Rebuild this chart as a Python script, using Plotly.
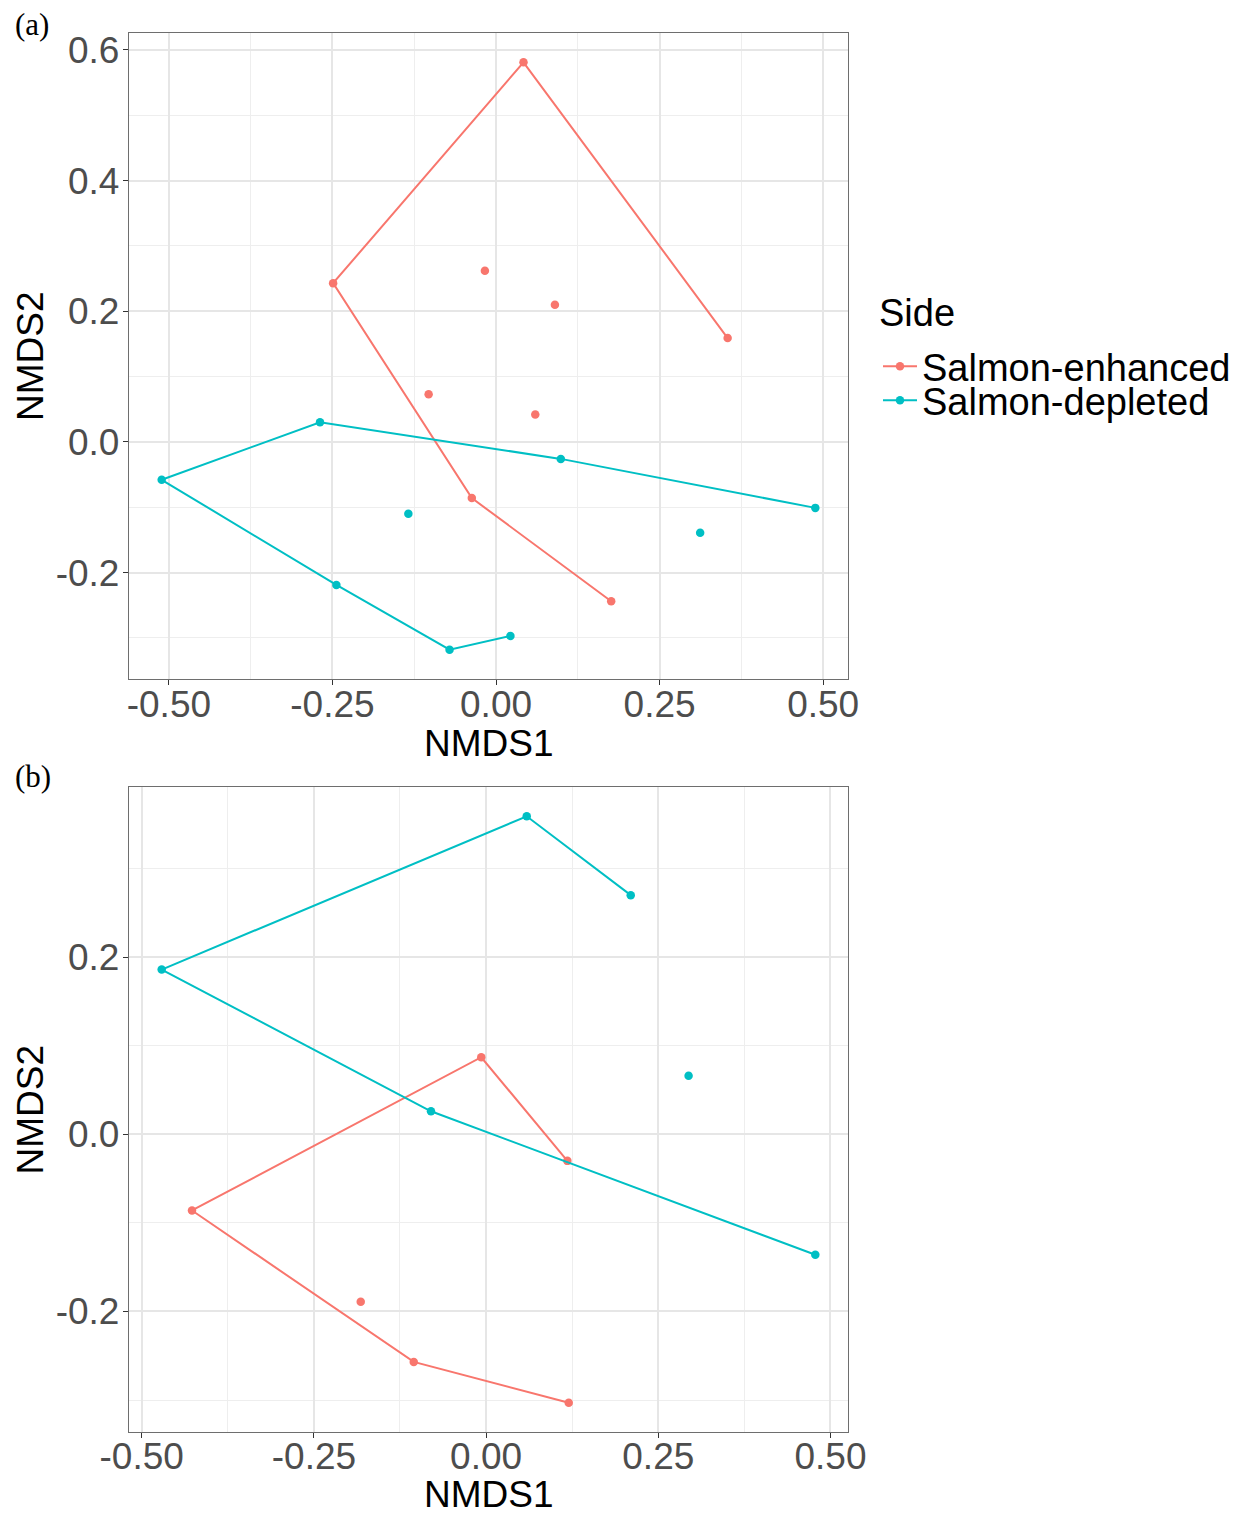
import plotly.graph_objects as go

# Side colours (ggplot2 default hue palette for two levels)
ENH_COLOR = "#F8766D"
DEP_COLOR = "#00BFC4"

# ---------------- Panel (a) ----------------
a_enh_path_x = [0.354, 0.042, -0.249, -0.037, 0.176]
a_enh_path_y = [0.159, 0.581, 0.243, -0.086, -0.244]
a_enh_pts_x = [-0.017, 0.090, -0.103, 0.060]
a_enh_pts_y = [0.262, 0.210, 0.073, 0.042]

a_dep_path_x = [0.488, 0.099, -0.269, -0.511, -0.244, -0.071, 0.022]
a_dep_path_y = [-0.101, -0.026, 0.030, -0.058, -0.219, -0.318, -0.297]
a_dep_pts_x = [-0.134, 0.312]
a_dep_pts_y = [-0.110, -0.139]

# ---------------- Panel (b) ----------------
b_enh_path_x = [0.118, -0.007, -0.427, -0.105, 0.120]
b_enh_path_y = [-0.030, 0.087, -0.086, -0.257, -0.303]
b_enh_pts_x = [-0.182]
b_enh_pts_y = [-0.189]

b_dep_path_x = [0.210, 0.059, -0.471, -0.080, 0.478]
b_dep_path_y = [0.270, 0.359, 0.186, 0.026, -0.136]
b_dep_pts_x = [0.294]
b_dep_pts_y = [0.066]

# Tick labels
x_tick_vals = [-0.50, -0.25, 0.00, 0.25, 0.50]
x_tick_text = ["-0.50", "-0.25", "0.00", "0.25", "0.50"]
a_y_tick_vals = [-0.2, 0.0, 0.2, 0.4, 0.6]
a_y_tick_text = ["-0.2", "0.0", "0.2", "0.4", "0.6"]
b_y_tick_vals = [-0.2, 0.0, 0.2]
b_y_tick_text = ["-0.2", "0.0", "0.2"]

legend_title = "Side"
group_names = ["Salmon-enhanced", "Salmon-depleted"]
x_title, y_title = "NMDS1", "NMDS2"
panel_tags = ["(a)", "(b)"]

FONT = "Liberation Sans, Arial, sans-serif"
SERIF = "Liberation Serif, Times New Roman, serif"
TICK_FONT = dict(family=FONT, size=37, color="#4D4D4D")
TITLE_FONT = dict(family=FONT, size=37, color="#000000")
LEGEND_FONT = dict(family=FONT, size=38, color="#000000")


def padded_range(values, frac=0.05):
    lo, hi = min(values), max(values)
    span = hi - lo
    return [lo - frac * span, hi + frac * span]


def minor_breaks(majors, rng):
    step = majors[1] - majors[0]
    ext = [majors[0] - step] + list(majors) + [majors[-1] + step]
    mids = [(ext[i] + ext[i + 1]) / 2 for i in range(len(ext) - 1)]
    return [m for m in mids if rng[0] <= m <= rng[1]]


fig = go.Figure()


def add_group(px, py, sx, sy, color, xa, ya, name, legend, show):
    fig.add_trace(go.Scatter(
        x=sx, y=sy, mode="markers", xaxis=xa, yaxis=ya,
        marker=dict(color=color, size=8.5), showlegend=False, name=name,
        hoverinfo="skip"))
    fig.add_trace(go.Scatter(
        x=px, y=py, mode="lines+markers", xaxis=xa, yaxis=ya,
        line=dict(color=color, width=2), marker=dict(color=color, size=8.5),
        name=name, legend=legend, showlegend=show, hoverinfo="skip"))


add_group(a_enh_path_x, a_enh_path_y, a_enh_pts_x, a_enh_pts_y, ENH_COLOR,
          "x", "y", group_names[0], "legend", True)
add_group(a_dep_path_x, a_dep_path_y, a_dep_pts_x, a_dep_pts_y, DEP_COLOR,
          "x", "y", group_names[1], "legend2", True)
add_group(b_enh_path_x, b_enh_path_y, b_enh_pts_x, b_enh_pts_y, ENH_COLOR,
          "x2", "y2", group_names[0], "legend", False)
add_group(b_dep_path_x, b_dep_path_y, b_dep_pts_x, b_dep_pts_y, DEP_COLOR,
          "x2", "y2", group_names[1], "legend2", False)

a_xr = padded_range(a_enh_path_x + a_enh_pts_x + a_dep_path_x + a_dep_pts_x)
a_yr = padded_range(a_enh_path_y + a_enh_pts_y + a_dep_path_y + a_dep_pts_y)
b_xr = padded_range(b_enh_path_x + b_enh_pts_x + b_dep_path_x + b_dep_pts_x)
b_yr = padded_range(b_enh_path_y + b_enh_pts_y + b_dep_path_y + b_dep_pts_y)

W, H = 1243, 1514
x_dom = [129 / W, 848 / W]
a_dom = [1 - 679 / H, 1 - 33 / H]
b_dom = [1 - 1432 / H, 1 - 787 / H]


def axis_style(rng, dom, tv, tt, anchor, label_shift):
    return dict(
        range=rng, domain=dom, anchor=anchor,
        tickmode="array", tickvals=tv, ticktext=tt,
        ticks="outside", ticklen=5, tickwidth=1.1, tickcolor="#333333",
        tickfont=TICK_FONT, ticklabelstandoff=label_shift,
        showgrid=True, gridcolor="#E6E6E6", gridwidth=1.5,
        minor=dict(tickmode="array", tickvals=minor_breaks(tv, rng),
                   showgrid=True, gridcolor="#EEEEEE", gridwidth=0.9, ticks=""),
        zeroline=False, showline=True, mirror=True,
        linecolor="#6E6E6E", linewidth=1.3,
        automargin=False, fixedrange=True,
    )


def paper_text(text, x, y, font, xanchor="center", yanchor="middle", angle=0):
    return dict(text=text, x=x / W, y=1 - y / H, xref="paper", yref="paper",
                xanchor=xanchor, yanchor=yanchor, showarrow=False,
                textangle=angle, font=font)


plot_cx = (129 + 848) / 2
annotations = [
    paper_text(x_title, plot_cx, 743, TITLE_FONT),
    paper_text(x_title, plot_cx, 1494, TITLE_FONT),
    paper_text(y_title, 30, (33 + 679) / 2, TITLE_FONT, angle=-90),
    paper_text(y_title, 30, (787 + 1432) / 2, TITLE_FONT, angle=-90),
    paper_text(legend_title, 877, 313, LEGEND_FONT, xanchor="left"),
    paper_text(panel_tags[0], 13, 24, dict(family=SERIF, size=31, color="#000"),
               xanchor="left"),
    paper_text(panel_tags[1], 13, 776, dict(family=SERIF, size=31, color="#000"),
               xanchor="left"),
]

fig.update_layout(
    width=W, height=H,
    margin=dict(l=0, r=0, t=0, b=0),
    paper_bgcolor="white", plot_bgcolor="white",
    xaxis=axis_style(a_xr, x_dom, x_tick_vals, x_tick_text, "y", -13),
    yaxis=axis_style(a_yr, a_dom, a_y_tick_vals, a_y_tick_text, "x", -4),
    xaxis2=axis_style(b_xr, x_dom, x_tick_vals, x_tick_text, "y2", -14),
    yaxis2=axis_style(b_yr, b_dom, b_y_tick_vals, b_y_tick_text, "x2", -4),
    legend=dict(
        font=LEGEND_FONT, itemwidth=34,
        x=878 / W, xanchor="left", y=1 - 335 / H, yanchor="top",
        bgcolor="rgba(0,0,0,0)", borderwidth=0,
    ),
    legend2=dict(
        font=LEGEND_FONT, itemwidth=34,
        x=878 / W, xanchor="left", y=1 - 369 / H, yanchor="top",
        bgcolor="rgba(0,0,0,0)", borderwidth=0,
    ),
    annotations=annotations,
)

fig.write_html("out.html")
